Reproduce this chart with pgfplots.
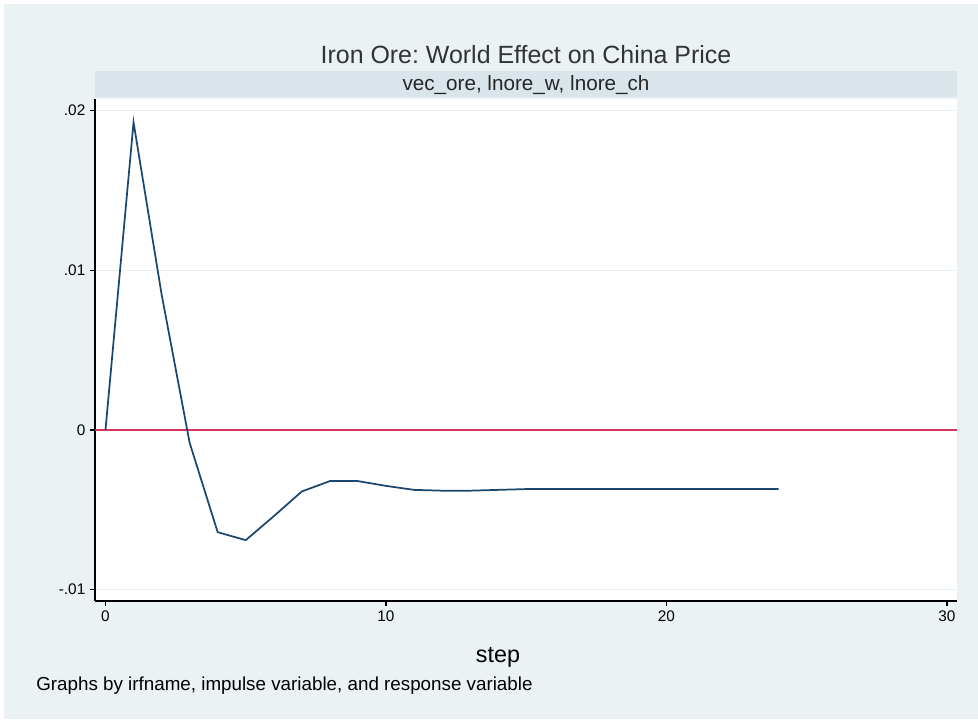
\documentclass[border=0pt]{standalone}
\usepackage{pgfplots}
\pgfplotsset{compat=1.18}
\usepackage{fontspec}
\setmainfont{Liberation Sans}
\frenchspacing

\definecolor{regionbg}{RGB}{234,242,243}
\definecolor{stripbg}{RGB}{217,229,235}
\definecolor{gridc}{RGB}{230,239,241}
\definecolor{navyline}{RGB}{26,71,111}
\definecolor{zeroline}{RGB}{214,52,89}

\begin{document}
\begin{tikzpicture}
  % page, graph region, strip and titles (units: 1 = 0.75pt, origin bottom left)
  \begin{scope}[x=0.75pt,y=0.75pt]
    \fill[white] (0,0) rectangle (978,719);
    \useasboundingbox (0,0) rectangle (978,719);
    \fill[regionbg] (4,0) rectangle (978,715);
    \fill[stripbg] (95,622) rectangle (957,648);
    \node[font=\fontsize{18.7}{22}\selectfont, text=black!80] at (526,664) {Iron Ore: World Effect on China Price};
    \node[font=\fontsize{15.5}{18}\selectfont, text=black!85] at (526,634) {vec\_ore, lnore\_w, lnore\_ch};
    \node[font=\fontsize{17.5}{20}\selectfont] at (498,62) {step};
    \node[font=\fontsize{14.1}{17}\selectfont, anchor=west, inner sep=0pt] at (36,33) {Graphs by irfname, impulse variable, and response variable};
  \end{scope}

  \begin{axis}[
    at={(71.25pt,88.5pt)}, anchor=south west,
    scale only axis,
    width=646.5pt, height=376.5pt,
    xmin=-0.374, xmax=30.36,
    ymin=-0.01071, ymax=0.02073,
    axis x line*=bottom, axis y line*=left,
    axis line style={black, line width=0.9pt},
    axis background/.style={fill=white},
    tick align=outside,
    major tick length=3.75pt,
    tick style={black, line width=0.9pt},
    xtick={0,10,20,30},
    xticklabels={0,10,20,30},
    ytick={-0.01,0,0.01,0.02},
    yticklabels={-.01,0,.01,.02},
    scaled y ticks=false,
    ticklabel style={font=\fontsize{11.5}{13}\selectfont},
    ymajorgrids,
    grid style={gridc, line width=1pt},
    clip=false,
  ]
    % zero reference line
    \addplot[zeroline, line width=1.3pt] coordinates {(-0.374,0) (30.36,0)};
    % impulse response
    \addplot[navyline, line width=1.3pt] coordinates {
      (0,0) (1,0.01927) (2,0.0085) (3,-0.0008) (4,-0.0064) (5,-0.0069)
      (6,-0.0054) (7,-0.00385) (8,-0.0032) (9,-0.0032) (10,-0.0035)
      (11,-0.00375) (12,-0.0038) (13,-0.0038) (14,-0.00375) (15,-0.0037)
      (16,-0.0037) (17,-0.0037) (18,-0.0037) (19,-0.0037) (20,-0.0037)
      (21,-0.0037) (22,-0.0037) (23,-0.0037) (24,-0.0037)
    };
  \end{axis}
\end{tikzpicture}
\end{document}
